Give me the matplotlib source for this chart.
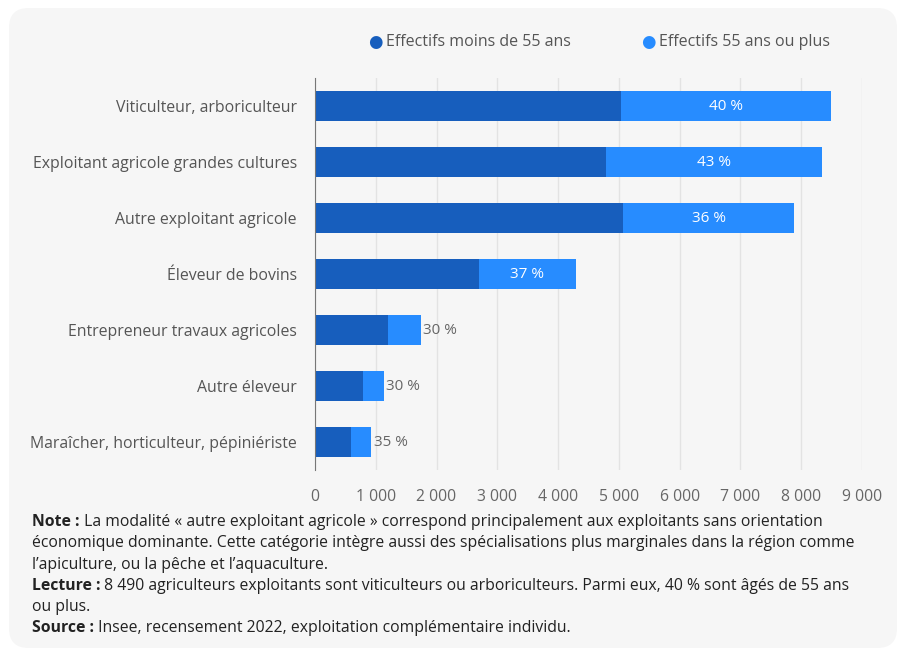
import matplotlib.pyplot as plt
from matplotlib.patches import FancyBboxPatch
import numpy as np

plt.rcParams['font.family'] = ['Open Sans', 'DejaVu Sans']

categories = ["Viticulteur, arboriculteur",
              "Exploitant agricole grandes cultures",
              "Autre exploitant agricole",
              "Éleveur de bovins",
              "Entrepreneur travaux agricoles",
              "Autre éleveur",
              "Maraîcher, horticulteur, pépiniériste"]
moins_55 = [5040, 4790, 5065, 2695, 1205, 790, 595]
plus_55 = [3450, 3560, 2820, 1600, 540, 345, 330]
pct_labels = ["40 %", "43 %", "36 %", "37 %", "30 %", "30 %", "35 %"]
xticks = [0, 1000, 2000, 3000, 4000, 5000, 6000, 7000, 8000, 9000]
xtick_labels = ["0", "1 000", "2 000", "3 000", "4 000", "5 000", "6 000", "7 000", "8 000", "9 000"]

dark = "#175ebd"
light = "#278cff"
panel = "#f6f6f6"
grey = "#666666"

fig = plt.figure(figsize=(8.99, 6.52), dpi=100)
fig.patch.set_facecolor("white")
bg = FancyBboxPatch((9/899, 4/652), 888/899, 640/652,
                    boxstyle="round,pad=0,rounding_size=0.022",
                    transform=fig.transFigure, facecolor=panel, edgecolor="none",
                    mutation_aspect=899/652, zorder=-10)
fig.patches.append(bg)

ax = fig.add_axes([315/899, 1 - 470/652, 547/899, 392/652])
ax.set_facecolor("none")
y = np.arange(len(categories))
ax.barh(y, moins_55, height=0.53, color=dark, zorder=3)
ax.barh(y, plus_55, left=moins_55, height=0.53, color=light, zorder=3)

for i in range(len(categories)):
    total = moins_55[i] + plus_55[i]
    if plus_55[i] > 1000:
        ax.text(moins_55[i] + plus_55[i] / 2, i, pct_labels[i], color="white",
                ha="center", va="center", fontsize=11, zorder=4)
    else:
        ax.text(total + 40, i, pct_labels[i], color=grey,
                ha="left", va="center", fontsize=11, zorder=4)

ax.set_xlim(0, 9000)
ax.set_ylim(len(categories) - 0.5, -0.5)
ax.set_yticks(y)
ax.set_yticklabels(categories)
ax.set_xticks(xticks)
ax.set_xticklabels(xtick_labels)
ax.tick_params(axis="y", length=0, pad=13, labelsize=11.4, labelcolor="#555555")
ax.tick_params(axis="x", length=0, pad=14, labelsize=11.3, labelcolor=grey)
ax.grid(axis="x", color="#e3e3e3", linewidth=1, zorder=0)
for s in ["top", "right", "bottom"]:
    ax.spines[s].set_visible(False)
ax.spines["left"].set_color("#777777")
ax.spines["left"].set_zorder(5)

# legend
fig.text(375/899, 1 - 42/652, "●", color=dark, fontsize=12, ha="center", va="center",
         family=["DejaVu Sans"])
fig.text(386/899, 1 - 42/652, "Effectifs moins de 55 ans", color="#555555", fontsize=11.5,
         ha="left", va="center")
fig.text(648/899, 1 - 42/652, "●", color=light, fontsize=12, ha="center", va="center",
         family=["DejaVu Sans"])
fig.text(659/899, 1 - 42/652, "Effectifs 55 ans ou plus", color="#555555", fontsize=11.5,
         ha="left", va="center")

# notes
notes = [
    ("Note :", " La modalité « autre exploitant agricole » correspond principalement aux exploitants sans orientation"),
    ("", "économique dominante. Cette catégorie intègre aussi des spécialisations plus marginales dans la région comme"),
    ("", "l’apiculture, ou la pêche et l’aquaculture."),
    ("Lecture :", " 8 490 agriculteurs exploitants sont viticulteurs ou arboriculteurs. Parmi eux, 40 % sont âgés de 55 ans"),
    ("", "ou plus."),
    ("Source :", " Insee, recensement 2022, exploitation complémentaire individu."),
]
y0 = 522
fs = 11.35
for k, (bold, rest) in enumerate(notes):
    yy = 1 - (y0 + k * 21.3) / 652
    t = fig.text(32/899, yy, bold, fontweight="bold", fontsize=fs, color="#222222",
                 ha="left", va="center")
    if bold:
        ax.annotate(rest, xy=(1, 0.5), xycoords=t, ha="left", va="center",
                    fontsize=fs, color="#222222", annotation_clip=False)
    else:
        fig.text(32/899, yy, rest, fontsize=fs, color="#222222", ha="left", va="center")

fig.savefig("out.png", dpi=100, facecolor="white")
